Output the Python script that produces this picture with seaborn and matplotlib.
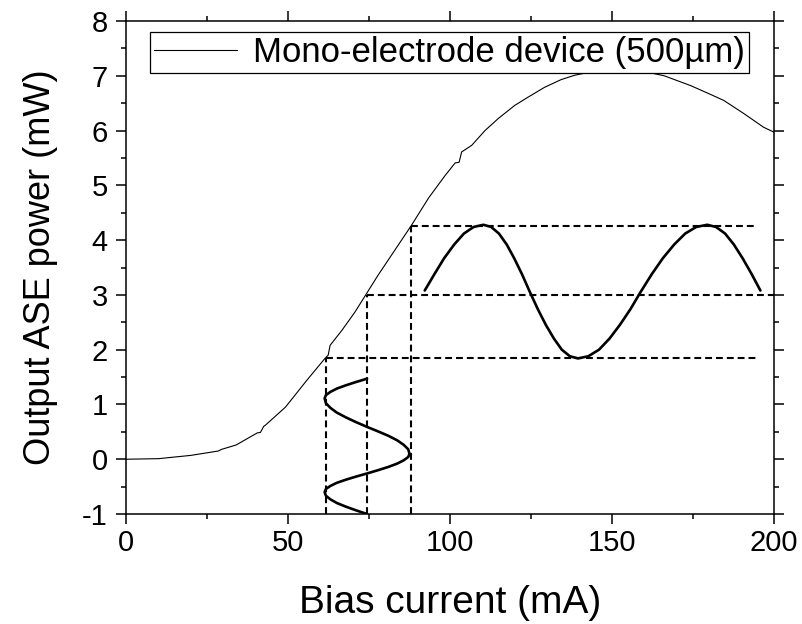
import matplotlib
matplotlib.use("Agg")
import matplotlib.pyplot as plt
import seaborn as sns
import pandas as pd

# ---- data ----
current = [0, 10, 20, 28.5, 29.5, 34, 40.5, 41.5, 42.5, 43, 49.2, 55.8, 61.4, 62.4, 63,
           66.6, 70.7, 74.2, 77.8, 82.9, 88.1, 93.4, 98.5, 101.6, 102.8, 103.6, 106.7,
           110.8, 114.9, 120, 124.1, 129.2, 134.3, 138.5, 145, 152, 159, 166.1, 174.3,
           180.4, 184.5, 190.7, 196.8, 200]
power = [0.0, 0.01, 0.07, 0.15, 0.18, 0.26, 0.48, 0.49, 0.60, 0.62, 0.95, 1.44, 1.84, 1.90, 2.08,
         2.35, 2.69, 3.02, 3.36, 3.81, 4.27, 4.77, 5.18, 5.41, 5.42, 5.61, 5.73,
         6.00, 6.22, 6.46, 6.61, 6.79, 6.93, 7.01, 7.09, 7.12, 7.09, 7.00, 6.82,
         6.66, 6.55, 6.31, 6.06, 5.97]

# output (modulated power) wave, drawn along the horizontal axis
out_wave_x = [92.2, 95.2, 98.2, 101.3, 104.3, 107.3, 110.3,
              112.7, 115.1, 117.5, 119.8, 122.2, 124.6,
              127.1, 129.6, 132.1, 134.5, 137.0, 139.5,
              142.7, 146.0, 149.2, 152.4, 155.7, 158.9,
              162.3, 165.7, 169.2, 172.6, 176.0, 179.4,
              182.1, 184.9, 187.6, 190.3, 193.1, 195.8]
out_wave_y = [3.08, 3.38, 3.67, 3.92, 4.12, 4.24, 4.28,
              4.24, 4.12, 3.92, 3.67, 3.38, 3.06,
              2.74, 2.45, 2.20, 2.00, 1.88, 1.84,
              1.88, 2.00, 2.20, 2.45, 2.74, 3.06,
              3.38, 3.67, 3.92, 4.12, 4.24, 4.28,
              4.24, 4.12, 3.92, 3.67, 3.38, 3.08]

# input (bias current) wave, drawn along the vertical axis
in_wave_x = [74.4, 71.0, 67.9, 65.1, 63.1, 61.7, 61.3,
             61.7, 63.1, 65.1, 67.9, 71.0, 74.4,
             77.8, 81.0, 83.7, 85.7, 87.1, 87.5,
             87.1, 85.7, 83.7, 81.0, 77.8, 74.4,
             71.0, 67.9, 65.1, 63.1, 61.7, 61.3,
             61.7, 63.1, 65.1, 67.9, 71.0, 74.4]
in_wave_y = [-1.0, -0.933, -0.867, -0.80, -0.733, -0.667, -0.60,
             -0.543, -0.487, -0.43, -0.373, -0.317, -0.26,
             -0.20, -0.14, -0.08, -0.02, 0.04, 0.10,
             0.182, 0.263, 0.345, 0.427, 0.508, 0.59,
             0.677, 0.763, 0.85, 0.937, 1.023, 1.11,
             1.17, 1.23, 1.29, 1.35, 1.41, 1.47]

# dashed guide lines
guide_current = [61.8, 74.4, 88.1]
guide_power = [1.85, 3.0, 4.26]
guide_end = [195.3, 200, 194.3]

legend_label = "Mono-electrode device (500µm)"
x_ticks = [0, 50, 100, 150, 200]
y_ticks = [-1, 0, 1, 2, 3, 4, 5, 6, 7, 8]

# ---- styling ----
sns.set_theme(style="ticks")
plt.rcParams["font.family"] = ["Liberation Sans", "DejaVu Sans"]
plt.rcParams.update({
    "text.color": "black", "axes.labelcolor": "black",
    "xtick.color": "black", "ytick.color": "black",
    "axes.edgecolor": "black", "axes.unicode_minus": False,
})

fig = plt.figure(figsize=(8.02, 6.24), dpi=100)
ax = fig.add_axes([126 / 802, 1 - 514 / 624, 648 / 802, 493 / 624])

df_main = pd.DataFrame({"current": current, "power": power})
sns.lineplot(data=df_main, x="current", y="power", ax=ax, color="black",
             linewidth=0.8, label=legend_label, estimator=None, sort=False)

dash = (3.3, 1.9)
for gx, gy, ge in zip(guide_current, guide_power, guide_end):
    ax.plot([gx, gx], [-1, gy], color="black", linewidth=1.5, dashes=dash)
    ax.plot([gx, ge], [gy, gy], color="black", linewidth=1.5, dashes=dash)

sns.lineplot(x=out_wave_x, y=out_wave_y, ax=ax, color="black", linewidth=1.9,
             estimator=None, sort=False, legend=False)
sns.lineplot(x=in_wave_x, y=in_wave_y, ax=ax, color="black", linewidth=1.9,
             estimator=None, sort=False, legend=False)

ax.set_xlim(0, 200)
ax.set_ylim(-1, 8)
ax.set_xticks(x_ticks)
ax.set_yticks(y_ticks)
ax.set_xticks([25, 75, 125, 175], minor=True)
ax.set_yticks([-0.5 + i for i in range(9)], minor=True)
ax.tick_params(which="both", direction="out", top=True, right=True,
               labeltop=False, labelright=False, color="black", width=1.1)
ax.tick_params(which="major", length=7.2, labelsize=21)
ax.tick_params(axis="x", which="major", pad=3.5)
ax.tick_params(axis="y", which="major", pad=6)
ax.tick_params(which="minor", length=3.6)
for s in ax.spines.values():
    s.set_visible(True)
    s.set_color("black")
    s.set_linewidth(1.1)

ax.set_xlabel("Bias current (mA)", fontsize=28, labelpad=20)
ax.set_ylabel("Output ASE power (mW)", fontsize=26, labelpad=17)

leg = ax.legend(loc="upper left", bbox_to_anchor=(0.037, 0.978), fontsize=25,
                frameon=True, fancybox=False, edgecolor="black", framealpha=1,
                borderpad=0.12, handlelength=2.4, handletextpad=0.45,
                borderaxespad=0)
leg.get_frame().set_linewidth(0.9)

fig.savefig("out.png", dpi=100)
